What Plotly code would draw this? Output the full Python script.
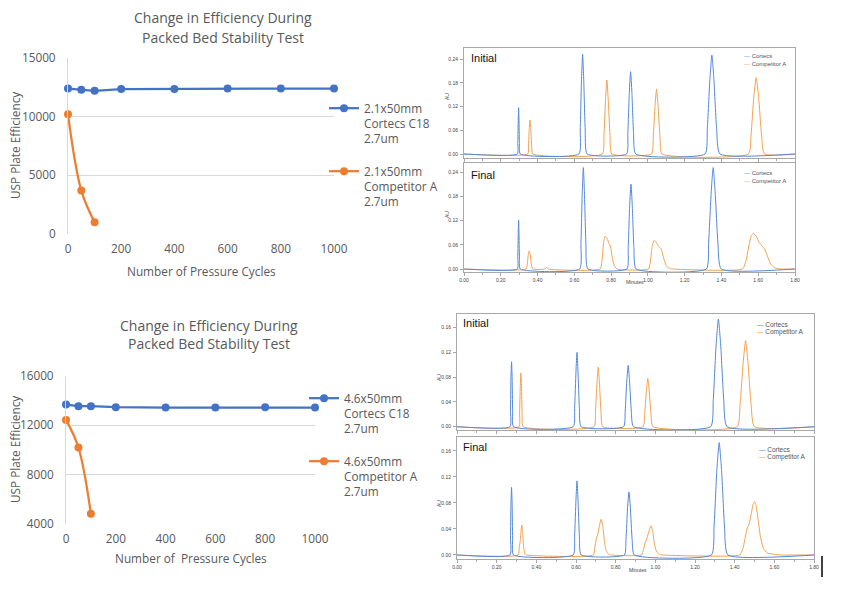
import plotly.graph_objects as go

W, H = 842, 592

# ---------------- data: efficiency vs pressure cycles ----------------
cycles = [0, 50, 100, 200, 400, 600, 800, 1000]
comp_cycles = [0, 50, 100]
cortecs_21 = [12400, 12300, 12200, 12350, 12350, 12400, 12400, 12400]
competitor_21 = [10200, 3700, 1000]
cortecs_46 = [13680, 13550, 13550, 13470, 13440, 13440, 13470, 13440]
competitor_46 = [12440, 10200, 4840]

name_c21 = "2.1x50mm<br>Cortecs C18<br>2.7um"
name_o21 = "2.1x50mm<br>Competitor A<br>2.7um"
name_c46 = "4.6x50mm<br>Cortecs C18<br>2.7um"
name_o46 = "4.6x50mm<br>Competitor A<br>2.7um"

# ---------------- data: chromatograms (minutes, AU) ----------------
ti_c_t = [0.000, 0.290, 0.2925, 0.295, 0.297, 0.299, 0.3015, 0.306,
          0.625, 0.632, 0.639, 0.645, 0.651, 0.659, 0.670,
          0.884, 0.891, 0.899, 0.906, 0.913, 0.922, 0.934,
          1.311, 1.323, 1.337, 1.348, 1.359, 1.374, 1.392, 1.800]
ti_c_au = [0, 0, 0.029, 0.088, 0.117, 0.088, 0.029, 0,
           0, 0.063, 0.189, 0.252, 0.189, 0.063, 0,
           0, 0.052, 0.156, 0.208, 0.156, 0.052, 0,
           0, 0.062, 0.188, 0.250, 0.188, 0.062, 0, 0]
ti_o_t = [0.000, 0.347, 0.351, 0.355, 0.359, 0.363, 0.368, 0.374,
          0.752, 0.761, 0.770, 0.777, 0.784, 0.794, 0.804,
          1.020, 1.029, 1.039, 1.047, 1.055, 1.066, 1.077,
          1.547, 1.561, 1.576, 1.589, 1.602, 1.618, 1.634, 1.800]
ti_o_au = [0, 0, 0.022, 0.065, 0.086, 0.065, 0.022, 0,
           0, 0.047, 0.140, 0.187, 0.140, 0.047, 0,
           0, 0.041, 0.123, 0.164, 0.123, 0.041, 0,
           0, 0.048, 0.145, 0.193, 0.145, 0.048, 0, 0]
tf_c_t = [0.000, 0.290, 0.2925, 0.295, 0.297, 0.299, 0.3015, 0.306,
          0.629, 0.636, 0.643, 0.649, 0.655, 0.663, 0.674,
          0.886, 0.893, 0.901, 0.908, 0.915, 0.924, 0.936,
          1.318, 1.330, 1.344, 1.355, 1.366, 1.381, 1.399, 1.800]
tf_c_au = [0, 0, 0.030, 0.091, 0.121, 0.091, 0.030, 0,
           0, 0.063, 0.188, 0.251, 0.188, 0.063, 0,
           0, 0.053, 0.158, 0.210, 0.158, 0.053, 0,
           0, 0.063, 0.188, 0.251, 0.188, 0.063, 0, 0]
tf_o_t = [0.000, 0.338, 0.344, 0.349, 0.355, 0.360, 0.365, 0.374,
          0.440, 0.449, 0.458,
          0.740, 0.750, 0.758, 0.767, 0.778, 0.788, 0.796, 0.806, 0.816, 0.832,
          1.003, 1.014, 1.023, 1.034, 1.046, 1.058, 1.072, 1.085, 1.100, 1.120, 1.137,
          1.515, 1.533, 1.550, 1.562, 1.575, 1.590, 1.606, 1.622, 1.634, 1.650, 1.668, 1.690, 1.720, 1.800]
tf_o_au = [0, 0, 0.012, 0.034, 0.045, 0.036, 0.015, 0,
           0, 0.004, 0,
           0, 0.020, 0.060, 0.081, 0.075, 0.064, 0.056, 0.030, 0.010, 0,
           0, 0.020, 0.055, 0.071, 0.066, 0.056, 0.050, 0.028, 0.008, 0.001, 0,
           0, 0.020, 0.060, 0.082, 0.088, 0.080, 0.065, 0.056, 0.050, 0.032, 0.012, 0.003, 0, 0]
bi_c_t = [0.000, 0.267, 0.2697, 0.272, 0.275, 0.278, 0.2805, 0.285,
          0.586, 0.593, 0.600, 0.605, 0.610, 0.617, 0.626,
          0.840, 0.848, 0.856, 0.863, 0.870, 0.879, 0.890,
          1.279, 1.292, 1.306, 1.318, 1.330, 1.345, 1.362, 1.800]
bi_c_au = [0, 0, 0.026, 0.079, 0.105, 0.079, 0.026, 0,
           0, 0.030, 0.090, 0.120, 0.090, 0.030, 0,
           0, 0.025, 0.074, 0.099, 0.074, 0.025, 0,
           0, 0.043, 0.130, 0.174, 0.130, 0.043, 0, 0]
bi_o_t = [0.000, 0.312, 0.3155, 0.319, 0.322, 0.325, 0.3285, 0.334,
          0.691, 0.698, 0.706, 0.712, 0.718, 0.726, 0.735,
          0.938, 0.946, 0.955, 0.962, 0.969, 0.978, 0.988,
          1.413, 1.427, 1.443, 1.455, 1.467, 1.483, 1.500, 1.800]
bi_o_au = [0, 0, 0.022, 0.065, 0.087, 0.065, 0.022, 0,
           0, 0.024, 0.072, 0.096, 0.072, 0.024, 0,
           0, 0.020, 0.059, 0.078, 0.059, 0.020, 0,
           0, 0.035, 0.104, 0.139, 0.104, 0.035, 0, 0]
bf_c_t = [0.000, 0.267, 0.2697, 0.272, 0.275, 0.278, 0.2805, 0.285,
          0.586, 0.593, 0.600, 0.605, 0.610, 0.617, 0.626,
          0.844, 0.852, 0.860, 0.867, 0.874, 0.883, 0.894,
          1.283, 1.296, 1.310, 1.322, 1.334, 1.349, 1.366, 1.800]
bf_c_au = [0, 0, 0.026, 0.078, 0.104, 0.078, 0.026, 0,
           0, 0.029, 0.086, 0.114, 0.086, 0.029, 0,
           0, 0.024, 0.073, 0.097, 0.073, 0.024, 0,
           0, 0.043, 0.130, 0.173, 0.130, 0.043, 0, 0]
bf_o_t = [0.000, 0.308, 0.314, 0.319, 0.323, 0.327, 0.331, 0.336, 0.342, 0.350,
          0.688, 0.695, 0.703, 0.710, 0.718, 0.727, 0.735, 0.743, 0.752, 0.765, 0.775,
          0.930, 0.940, 0.950, 0.958, 0.967, 0.978, 0.987, 0.995, 1.005, 1.020, 1.035,
          1.425, 1.440, 1.452, 1.462, 1.472, 1.483, 1.493, 1.500, 1.508, 1.518, 1.530,
          1.545, 1.565, 1.600, 1.633, 1.800]
bf_o_au = [0, 0, 0.012, 0.022, 0.038, 0.046, 0.035, 0.012, 0.002, 0,
           0, 0.012, 0.026, 0.032, 0.045, 0.055, 0.045, 0.022, 0.007, 0.001, 0,
           0, 0.008, 0.020, 0.026, 0.036, 0.045, 0.036, 0.018, 0.006, 0.001, 0,
           0, 0.008, 0.025, 0.040, 0.047, 0.062, 0.078, 0.082, 0.076, 0.055, 0.028,
           0.010, 0.003, 0.001, 0, 0]

# ---------------- styling ----------------
BLUE = "#4472C4"
ORANGE = "#ED7D31"
C_BLUE = "#5388db"
C_ORANGE = "#f3a24f"
XL_FONT = "Open Sans"
XL_GRAY = "#595959"
CH_FONT = "Liberation Sans"


def fx(p):
    return p / W


def fy(p):
    return 1 - p / H


fig = go.Figure()

# ---- line charts ----
def add_eff(xa, ya, leg, yc, yo, nc, no, grp):
    fig.add_trace(go.Scatter(x=cycles, y=yc, name=nc, mode="lines+markers",
                             line=dict(color=BLUE, width=2.25),
                             marker=dict(color=BLUE, size=8),
                             xaxis=xa, yaxis=ya, legend=leg, legendgroup=grp + "c",
                             cliponaxis=False))
    fig.add_trace(go.Scatter(x=comp_cycles, y=yo, name=no, mode="lines+markers",
                             line=dict(color=ORANGE, width=2.25, shape="spline"),
                             marker=dict(color=ORANGE, size=8),
                             xaxis=xa, yaxis=ya, legend=leg, legendgroup=grp + "o",
                             cliponaxis=False))


add_eff("x", "y", "legend", cortecs_21, competitor_21, name_c21, name_o21, "a")
add_eff("x2", "y2", "legend2", cortecs_46, competitor_46, name_c46, name_o46, "b")

# ---- chromatograms ----
chroms = [
    ("x3", "y3", ti_o_t, ti_o_au, ti_c_t, ti_c_au),
    ("x4", "y4", tf_o_t, tf_o_au, tf_c_t, tf_c_au),
    ("x5", "y5", bi_o_t, bi_o_au, bi_c_t, bi_c_au),
    ("x6", "y6", bf_o_t, bf_o_au, bf_c_t, bf_c_au),
]
for xa, ya, ot, oau, ct, cau in chroms:
    fig.add_trace(go.Scatter(x=ot, y=oau, mode="lines", name="Competitor A",
                             line=dict(color=C_ORANGE, width=1, shape="spline", smoothing=0.5),
                             xaxis=xa, yaxis=ya, showlegend=False))
    fig.add_trace(go.Scatter(x=ct, y=cau, mode="lines", name="Cortecs",
                             line=dict(color=C_BLUE, width=1, shape="spline", smoothing=0.5),
                             xaxis=xa, yaxis=ya, showlegend=False))

layout = dict(
    width=W, height=H, margin=dict(l=0, r=0, t=0, b=0, pad=0, autoexpand=False),
    paper_bgcolor="white", plot_bgcolor="white",
    font=dict(family=XL_FONT, color=XL_GRAY),
)


def eff_axes(xdom, ydom, yrange, ytick):
    xa = dict(domain=[fx(xdom[0]), fx(xdom[1])], range=[0, 1000], tickvals=[0, 200, 400, 600, 800, 1000],
              showgrid=False, zeroline=False, showline=False, ticks="", automargin=False,
              ticklabelstandoff=6, tickfont=dict(size=11.8, color=XL_GRAY, family=XL_FONT))
    ya = dict(domain=[fy(ydom[1]), fy(ydom[0])], range=yrange, dtick=ytick, tick0=yrange[0],
              tickformat="d", automargin=False,
              showgrid=True, gridcolor="#d9d9d9", gridwidth=1, zeroline=False,
              showline=True, linecolor="#d9d9d9", linewidth=1, ticks="",
              ticklabelstandoff=9, tickfont=dict(size=11.8, color=XL_GRAY, family=XL_FONT))
    return xa, ya


layout["xaxis"], layout["yaxis"] = eff_axes((68, 334), (58, 234), [0, 15000], 5000)
layout["xaxis2"], layout["yaxis2"] = eff_axes((66, 315), (376, 524), [4000, 16000], 4000)
layout["xaxis"]["anchor"] = "y"
layout["yaxis"]["anchor"] = "x"
layout["xaxis2"]["anchor"] = "y2"
layout["yaxis2"]["anchor"] = "x2"


def chrom_axes(n, xdom, ydom, yrange, ydt, show_x):
    tf = dict(size=5, color="#444", family=CH_FONT)
    xa = dict(domain=[fx(xdom[0]), fx(xdom[1])], range=[0, 1.8], dtick=0.2, tick0=0,
              tickformat=".2f", showticklabels=show_x, anchor="y%d" % n, automargin=False,
              showgrid=False, zeroline=False, showline=True, mirror=True,
              linecolor="#a8a8a8", linewidth=1, ticks="outside", ticklen=3,
              tickcolor="#a8a8a8", tickfont=tf, ticklabelstandoff=0,
              minor=dict(dtick=0.1, ticks="outside", ticklen=2, tickcolor="#a8a8a8"))
    ya = dict(domain=[fy(ydom[1]), fy(ydom[0])], range=yrange, dtick=ydt, tick0=0,
              tickformat=".2f", anchor="x%d" % n, automargin=False,
              showgrid=False, zeroline=False, showline=True, mirror=True,
              linecolor="#a8a8a8", linewidth=1, ticks="outside", ticklen=3,
              tickcolor="#a8a8a8", tickfont=tf, ticklabelstandoff=1)
    return xa, ya


layout["xaxis3"], layout["yaxis3"] = chrom_axes(3, (464, 795), (48, 158), [-0.0101, 0.2678], 0.06, False)
layout["xaxis4"], layout["yaxis4"] = chrom_axes(4, (464, 795), (163, 272), [-0.0074, 0.2623], 0.06, True)
layout["xaxis5"], layout["yaxis5"] = chrom_axes(5, (457, 814), (314, 430), [-0.0053, 0.1821], 0.04, False)
layout["xaxis6"], layout["yaxis6"] = chrom_axes(6, (457, 814), (437, 559), [-0.0062, 0.1815], 0.04, True)

leg_common = dict(xanchor="left", yanchor="top", valign="top", bgcolor="rgba(0,0,0,0)",
                  borderwidth=0, tracegroupgap=14, itemwidth=30,
                  font=dict(size=11.8, color=XL_GRAY, family=XL_FONT))
layout["legend"] = dict(x=fx(324), y=fy(94), **leg_common)
layout["legend2"] = dict(x=fx(304), y=fy(384), **leg_common)

annotations = []


def ann(text, x, y, size, color=XL_GRAY, family=XL_FONT, xanchor="center", angle=0):
    annotations.append(dict(text=text, x=fx(x), y=fy(y), xref="paper", yref="paper",
                            showarrow=False, xanchor=xanchor, yanchor="middle",
                            textangle=angle, font=dict(size=size, color=color, family=family)))


# line chart titles / axis titles
ann("Change in Efficiency During", 223, 18, 14)
ann("Packed Bed Stability Test", 223, 37, 14)
ann("USP Plate Efficiency", 15, 146, 11.8, angle=-90)
ann("Number of Pressure Cycles", 201, 271, 11.8)
ann("Change in Efficiency During", 209, 325, 14)
ann("Packed Bed Stability Test", 209, 343, 14)
ann("USP Plate Efficiency", 15, 450, 11.8, angle=-90)
ann("Number of\u00a0 Pressure Cycles", 191, 558, 11.8)

# chromatogram labels
for txt, x, y in [("Initial", 469, 58), ("Final", 469, 175), ("Initial", 461, 323), ("Final", 461, 447)]:
    ann(txt, x, y, 11, color="#111", family=CH_FONT, xanchor="left")
for x, y in [(447, 97), (447, 215), (439, 377), (439, 503)]:
    ann("AU", x, y, 5, color="#444", family=CH_FONT, angle=-90)
ann("Minutes", 635, 282, 5, color="#444", family=CH_FONT)
ann("Minutes", 638, 570, 5, color="#444", family=CH_FONT)

# chromatogram legends
for x, y1, y2, sz in [(742, 56, 64, 6), (742, 173, 181, 6), (755, 324, 332, 6.5), (757, 449, 457, 6.5)]:
    ann("<span style='color:%s'>\u2014</span> Cortecs" % C_BLUE, x, y1, sz, color="#555",
        family=CH_FONT, xanchor="left")
    ann("<span style='color:%s'>\u2014</span> Competitor A" % C_ORANGE, x, y2, sz, color="#555",
        family=CH_FONT, xanchor="left")

layout["annotations"] = annotations
layout["shapes"] = [dict(type="line", xref="paper", yref="paper", x0=fx(822), x1=fx(822),
                         y0=fy(556), y1=fy(577), line=dict(color="black", width=1.5))]

fig.update_layout(**layout)
fig.write_html("out.html", config={"displayModeBar": False},
               post_script="document.body.style.margin='0';")
